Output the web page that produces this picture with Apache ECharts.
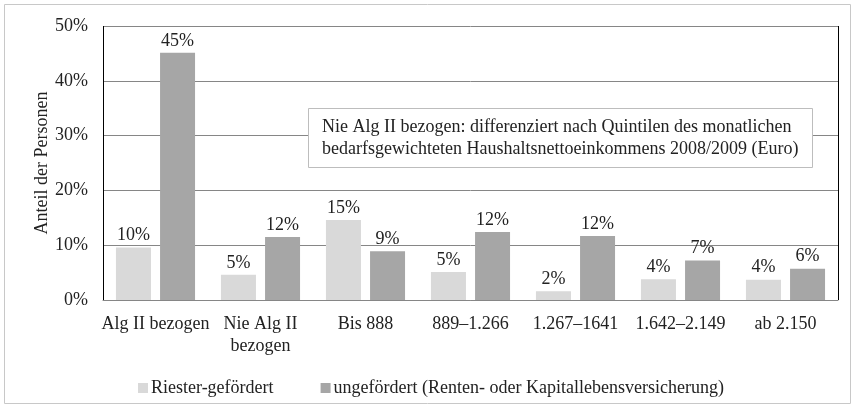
<!DOCTYPE html>
<html>
<head>
    <meta charset="utf-8">
    <title>Riester</title>
    <script src="https://cdn.jsdelivr.net/npm/echarts@6/dist/echarts.min.js"></script>
    <style>
        html, body { margin: 0; padding: 0; background: #fff; }
        #chart { width: 855px; height: 408px; }
    </style>
</head>
<body>
    <div id="chart"></div>
    <script>
        var categories = ['Alg II bezogen', 'Nie Alg II\nbezogen', 'Bis 888', '889–1.266', '1.267–1641', '1.642–2.149', 'ab 2.150'];
        var riester = [9.6, 4.6, 14.6, 5.1, 1.6, 3.8, 3.7];
        var ungefoerdert = [45.1, 11.5, 8.9, 12.4, 11.7, 7.2, 5.7];
        var seriesNames = ['Riester-gefördert', 'ungefördert (Renten- oder Kapitallebensversicherung)'];
        var noteText = 'Nie Alg II bezogen: differenziert nach Quintilen des monatlichen\nbedarfsgewichteten Haushaltsnettoeinkommens 2008/2009 (Euro)';

        var font = '"Liberation Serif", "Times New Roman", serif';
        var fs = 18;
        var chart = echarts.init(document.getElementById('chart'));

        function barLabel() {
            return {
                show: true,
                position: 'top',
                distance: 3,
                color: '#222',
                fontFamily: font,
                fontSize: fs,
                formatter: function (p) { return Math.round(p.value) + '%'; }
            };
        }

        chart.setOption({
            animation: false,
            textStyle: { fontFamily: font },
            graphic: [{
                type: 'rect',
                shape: { x: 4.5, y: 4.5, width: 846, height: 399 },
                style: { fill: 'none', stroke: '#c8c8c8', lineWidth: 1 },
                z: -1
            }],
            title: {
                text: noteText,
                left: 308,
                top: 108,
                padding: [8, 14, 8, 14],
                borderColor: '#bdbdbd',
                borderWidth: 1,
                backgroundColor: '#fff',
                textStyle: {
                    fontFamily: font,
                    fontSize: fs,
                    fontWeight: 'normal',
                    color: '#222',
                    lineHeight: 22
                }
            },
            legend: {
                data: seriesNames,
                left: 133,
                top: 374,
                itemWidth: 10,
                itemHeight: 10,
                itemGap: 47,
                icon: 'rect',
                textStyle: { fontFamily: font, fontSize: fs, color: '#222', padding: [0, 0, 0, -2] }
            },
            grid: { left: 103, right: 17, top: 26, bottom: 108 },
            xAxis: {
                type: 'category',
                data: categories,
                axisLine: { lineStyle: { color: '#868686', width: 1 } },
                axisTick: { show: false },
                axisLabel: {
                    color: '#222',
                    fontFamily: font,
                    fontSize: fs,
                    lineHeight: 22,
                    margin: 13,
                    interval: 0
                },
                splitLine: {
                    show: true,
                    interval: function (index) { return index === 1; },
                    lineStyle: { color: '#000', width: 1 }
                }
            },
            yAxis: {
                type: 'value',
                min: 0,
                max: 50,
                interval: 10,
                name: 'Anteil der Personen',
                nameLocation: 'middle',
                nameGap: 52,
                nameMoveOverlap: false,
                nameTextStyle: { fontFamily: font, fontSize: fs, color: '#222' },
                axisLine: { show: false },
                axisTick: { show: false },
                axisLabel: {
                    color: '#222',
                    fontFamily: font,
                    fontSize: fs,
                    margin: 15,
                    formatter: '{value}%'
                },
                splitLine: { lineStyle: { color: '#868686', width: 1 } }
            },
            series: [{
                name: seriesNames[0],
                type: 'bar',
                data: riester,
                barWidth: 35,
                barGap: '26%',
                itemStyle: { color: '#d9d9d9' },
                label: barLabel()
            }, {
                name: seriesNames[1],
                type: 'bar',
                data: ungefoerdert,
                barWidth: 35,
                itemStyle: { color: '#a6a6a6' },
                label: barLabel()
            }]
        });
    </script>
</body>
</html>
